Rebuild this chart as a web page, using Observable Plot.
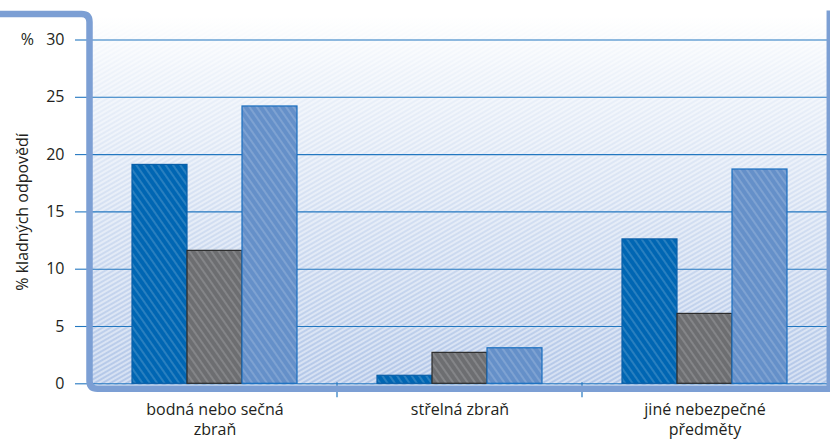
<!DOCTYPE html>
<html><head><meta charset="utf-8">
<script src="https://cdn.jsdelivr.net/npm/d3@7"></script>
<script src="https://cdn.jsdelivr.net/npm/@observablehq/plot@0.6"></script>
<style>body{margin:0;background:#fff}</style>
</head><body><div id="chart"></div>
<script>
const categories = ["bodná nebo sečná zbraň", "střelná zbraň", "jiné nebezpečné předměty"];
const categoryLabels = ["bodná nebo sečná\nzbraň", "střelná zbraň", "jiné nebezpečné\npředměty"];
const seriesNames = ["řada 1", "řada 2", "řada 3"];
const series1 = [19.1, 0.7, 12.6];
const series2 = [11.6, 2.7, 6.1];
const series3 = [24.2, 3.1, 18.7];
const yTicks = [0, 5, 10, 15, 20, 25, 30];
const yLabel = "% kladných odpovědí";

const seriesValues = [series1, series2, series3];
const baseColors = ["#0066b3", "#6d6e71", "#6590c9"];
const strokeColors = ["#0a5fa8", "#2b2b2b", "#1a6fc0"];
const data = categories.flatMap((c, i) => seriesNames.map((s, j) => ({category: c, series: s, value: seriesValues[j][i]})));

const gridColor = "#2377c0";
const font = "'Open Sans', sans-serif";

const chart = Plot.plot({
  width: 830, height: 441,
  marginTop: 39.5, marginBottom: 57.7, marginLeft: 92, marginRight: 3,
  style: {fontFamily: font, background: "transparent", color: "#231f20"},
  fx: {domain: categories, padding: 0, label: null, axis: null},
  x: {domain: seriesNames, paddingInner: 0, paddingOuter: 0.727, axis: null},
  y: {domain: [0, 30]},
  marks: [
    Plot.gridY(yTicks, {stroke: gridColor, strokeOpacity: 1, strokeWidth: 1.1}),
    ...seriesNames.map((s, j) => Plot.barY(data.filter(d => d.series === s), {
      fx: "category", x: "series", y: "value",
      fill: `url(#hatch${j})`, stroke: strokeColors[j], strokeWidth: 1.2
    })),
    Plot.axisY(yTicks, {
      tickSize: 17, stroke: gridColor, strokeWidth: 1.1, tickPadding: 11, fontSize: 16,
      tickFormat: d => d === 30 ? "%\u2002 30" : String(d), label: null
    }),
    Plot.axisY({ticks: [], tickSize: 0, label: yLabel, labelAnchor: "center", labelOffset: 76, labelArrow: "none", fontSize: 16}),
    Plot.axisFx({anchor: "bottom", tickSize: 0, tickPadding: 16, fontSize: 16, lineHeight: 1.3, label: null,
      tickFormat: d => categoryLabels[categories.indexOf(d)]})
  ]
});

document.getElementById("chart").appendChild(chart);

// decorations derived from the chart's scales
const svg = d3.select(chart.tagName.toLowerCase() === "svg" ? chart : chart.querySelector("svg"));
const fx = chart.scale("fx");
const ys = chart.scale("y");
const [left, right] = fx.range;
const y0 = ys.apply(0), yTop = ys.apply(30);

const defs = svg.insert("defs", ":first-child");
baseColors.forEach((c, j) => {
  const p = defs.append("pattern").attr("id", `hatch${j}`).attr("patternUnits", "userSpaceOnUse")
    .attr("width", 6).attr("height", 6).attr("patternTransform", "rotate(55)");
  p.append("rect").attr("width", 6).attr("height", 6).attr("fill", c);
  p.append("line").attr("x1", 0).attr("x2", 6).attr("y1", 1).attr("y2", 1)
    .attr("stroke", "#fff").attr("stroke-opacity", 0.4).attr("stroke-width", 0.8);
});
const bgp = defs.append("pattern").attr("id", "bghatch").attr("patternUnits", "userSpaceOnUse")
  .attr("width", 4).attr("height", 4).attr("patternTransform", "rotate(-30)");
bgp.append("line").attr("x1", 0).attr("x2", 4).attr("y1", 1).attr("y2", 1)
  .attr("stroke", "#fff").attr("stroke-opacity", 0.7).attr("stroke-width", 1.3);
const grad = defs.append("linearGradient").attr("id", "bggrad").attr("x1", 0).attr("x2", 0).attr("y1", 0).attr("y2", 1);
grad.append("stop").attr("offset", 0).attr("stop-color", "#ffffff");
grad.append("stop").attr("offset", 0.15).attr("stop-color", "#eef3fa");
grad.append("stop").attr("offset", 1).attr("stop-color", "#b3c7e8");

const bgTop = yTop - 23, bgBottom = y0 + 2;
const bg = svg.insert("g", "defs + *");
bg.append("rect").attr("x", left).attr("y", bgTop).attr("width", right - left).attr("height", bgBottom - bgTop).attr("fill", "url(#bggrad)");
bg.append("rect").attr("x", left).attr("y", bgTop).attr("width", right - left).attr("height", bgBottom - bgTop).attr("fill", "url(#bghatch)");

// separators between category groups
categories.slice(1).forEach(c => {
  const x = fx.apply(c);
  svg.append("line").attr("x1", x).attr("x2", x).attr("y1", y0 - 1).attr("y2", y0 + 14)
    .attr("stroke", gridColor).attr("stroke-width", 1.2);
});

// frame
const L = left - 2.5, T = yTop - 25.5, B = y0 + 5.5, r = 8;
svg.append("path")
  .attr("d", `M0,${T}H${L - r}Q${L},${T} ${L},${T + r}V${B - r}Q${L},${B} ${L + r},${B}H830`)
  .attr("fill", "none").attr("stroke", "#7c9fd4").attr("stroke-width", 6.5);
svg.append("line").attr("x1", right + 1.3).attr("x2", right + 1.3).attr("y1", T - 3.5).attr("y2", B)
  .attr("stroke", "#7c9fd4").attr("stroke-width", 3.5);
</script>
</body></html>
